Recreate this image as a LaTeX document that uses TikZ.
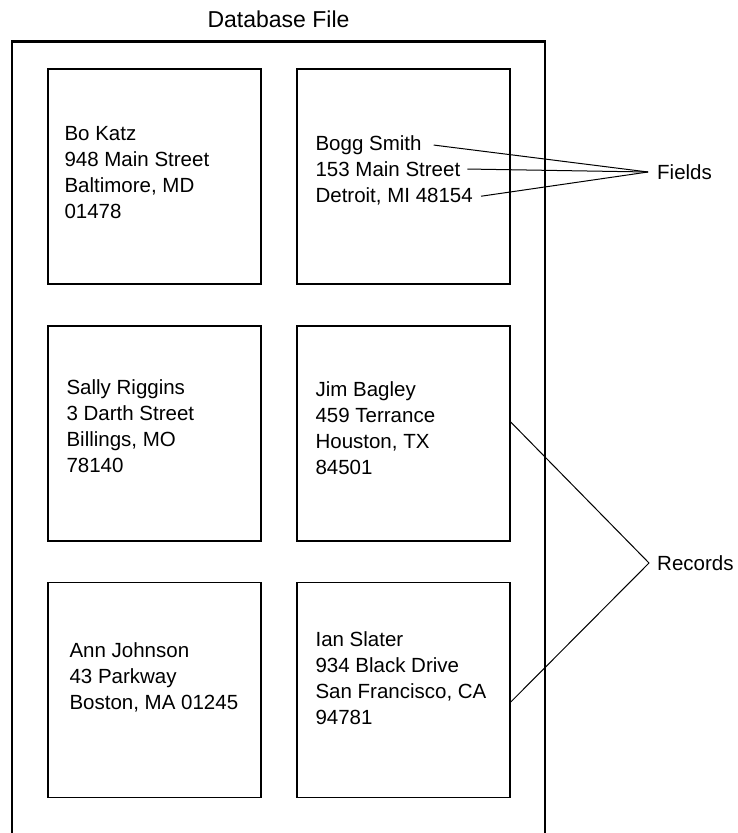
\documentclass[tikz,border=0pt]{standalone}
\usepackage{fontspec}
\setmainfont{Liberation Sans}
\usepackage{tikz}
\usetikzlibrary{positioning,calc}
\tikzset{
  frame/.style  = {draw=black, line width=2.4pt},
  rec/.style    = {draw=black, line width=1.3pt, minimum width=213pt, minimum height=215pt,
                   inner sep=0pt},
  entry/.style  = {align=left, inner sep=0pt, font=\fontsize{20.5}{26}\selectfont},
  title/.style  = {inner sep=0pt, font=\fontsize{23}{28}\selectfont},
  lbl/.style    = {inner sep=0pt, font=\fontsize{20.5}{26}\selectfont},
  lead/.style   = {draw=black, line width=1pt},
}
\begin{document}
\begin{tikzpicture}[x=1pt,y=-1pt]
\useasboundingbox (0,0) rectangle (738,833);

% --- the file -----------------------------------------------------------
\draw[frame] (12,834) -- (12,41.5) -- (545,41.5) -- (545,834);
\node[title, anchor=base] (dbfile) at (278.5,27) {Database File};

% --- records ------------------------------------------------------------
\node[rec] (b11) at (154.5,176.5) {};
\node[rec] (b12) at (403.5,176.5) {};
\node[rec] (b21) at (154.5,433.5) {};
\node[rec] (b22) at (403.5,433.5) {};
\node[rec] (b31) at (154.5,690) {};
\node[rec] (b32) at (403.5,690) {};

\node[entry, anchor=north west] (t11) at ($(b11.north west)+(17,58)$)
  {Bo Katz\\948 Main Street\\Baltimore, MD\\01478};
\node[entry, anchor=base west] (bogg1) at ($(b12.north west)+(19,82)$) {Bogg Smith};
\node[entry, anchor=base west] (bogg2) at ($(b12.north west)+(19,108)$) {153 Main Street};
\node[entry, anchor=base west] (bogg3) at ($(b12.north west)+(19,134)$) {Detroit, MI 48154};
\node[entry, anchor=north west] (t21) at ($(b21.north west)+(19,54)$)
  {Sally Riggins\\3 Darth Street\\Billings, MO\\78140};
\node[entry, anchor=north west] (t22) at ($(b22.north west)+(19,56)$)
  {Jim Bagley\\459 Terrance\\Houston, TX\\84501};
\node[entry, anchor=north west] (t31) at ($(b31.north west)+(22,61)$)
  {Ann Johnson\\43 Parkway\\Boston, MA 01245};
\node[entry, anchor=north west] (t32) at ($(b32.north west)+(19,50)$)
  {Ian Slater\\934 Black Drive\\San Francisco, CA\\94781};

% --- callouts -----------------------------------------------------------
\node[lbl, anchor=west] (fields) at (657,172) {Fields};
\node[lbl, anchor=west] (records) at (657,563) {Records};
\draw[lead] ([xshift=12pt]bogg1.east) -- ([xshift=-9pt]fields.west);
\draw[lead] ([xshift=7pt]bogg2.east) -- ([xshift=-9pt]fields.west);
\draw[lead] ([xshift=8pt]bogg3.east) -- ([xshift=-9pt]fields.west);
\draw[lead] ($(b22.north east)!0.4465!(b22.south east)$) -- ([xshift=-8pt]records.west)
  -- ($(b32.north east)!0.556!(b32.south east)$);

\end{tikzpicture}
\end{document}
